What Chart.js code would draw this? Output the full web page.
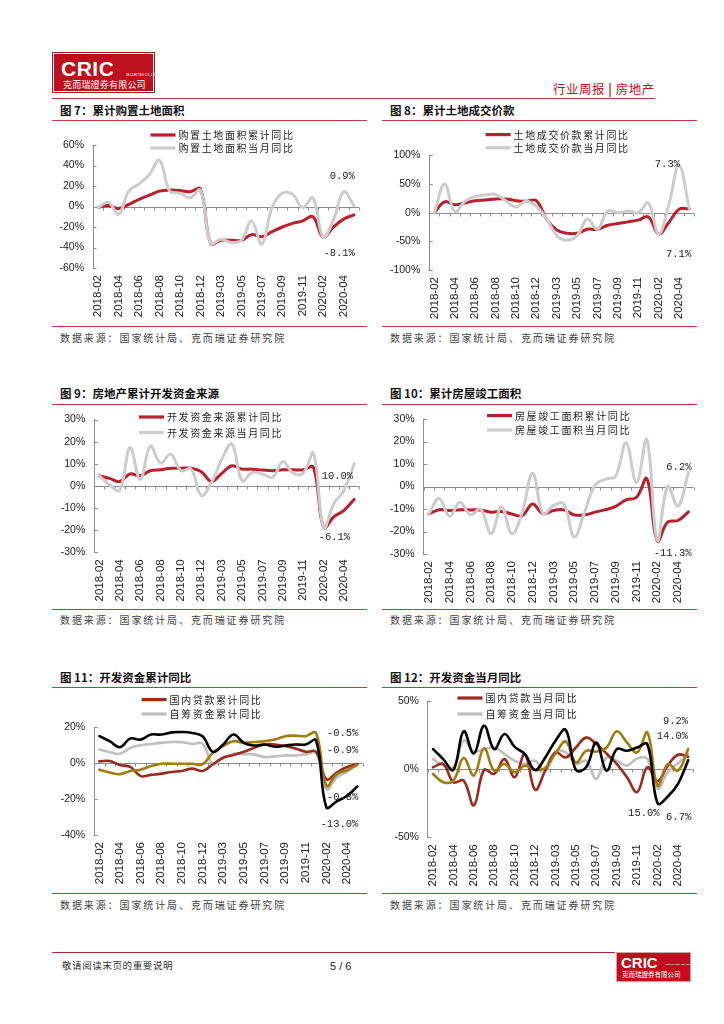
<!DOCTYPE html>
<html><head><meta charset="utf-8">
<script src="https://cdn.jsdelivr.net/npm/chart.js@4.4.0/dist/chart.umd.min.js"></script>
<style>
html,body{margin:0;padding:0;background:#fff}
body{width:724px;height:1024px;position:relative;overflow:hidden;font-family:"Noto Sans CJK SC","Noto Sans",sans-serif;color:#222}
.a{position:absolute;white-space:nowrap}
.logo{left:52px;top:52px;width:101px;height:39px;border:1px solid #b5121b;background:#fff}
.logo .in{position:absolute;left:1px;top:1px;right:1px;bottom:1px;background:#bd0f1d}
.cric{font-family:"Liberation Sans",Arial,sans-serif;font-weight:bold;color:#fff}
.hl{height:0;border-top:1.5px solid #c0393d}
.title{font-size:11.5px;font-weight:bold;color:#111;line-height:14px}
.src{font-size:10px;letter-spacing:1.9px;color:#444;line-height:12px}
canvas{position:absolute}
</style></head>
<body>
<!-- header -->
<div class="a logo"><div class="in"></div>
  <div class="a cric" style="left:8px;top:4px;font-size:21px;letter-spacing:0.5px">CRIC</div>
  <div class="a cric" style="left:73px;top:20px;font-size:3px;font-weight:normal">SECURITIES CO.,LTD</div>
  <div class="a" style="left:10px;top:26px;font-size:9px;color:#fff;line-height:11px;letter-spacing:0.2px">克而瑞證券有限公司</div>
</div>
<div class="a" style="left:553px;top:81px;font-size:12.5px;color:#c0141e;line-height:15px;letter-spacing:0.5px">行业周报 <span style="font-weight:bold">|</span> 房地产</div>
<div class="a hl" style="left:52px;top:98px;width:603px"></div>

<!-- row 1 -->
<div class="a title" style="left:60px;top:103px">图 7：累计购置土地面积</div>
<div class="a title" style="left:390px;top:103px">图 8：累计土地成交价款</div>
<div class="a hl" style="left:52px;top:120px;width:315px"></div>
<div class="a hl" style="left:382px;top:120px;width:315px"></div>
<canvas id="c7" width="315" height="202" style="left:52px;top:122px;width:315px;height:202px"></canvas>
<canvas id="c8" width="315" height="202" style="left:382px;top:122px;width:315px;height:202px"></canvas>
<div class="a hl" style="left:52px;top:326px;width:315px"></div>
<div class="a hl" style="left:382px;top:326px;width:315px"></div>
<div class="a src" style="left:60px;top:332px">数据来源：国家统计局、克而瑞证券研究院</div>
<div class="a src" style="left:390px;top:332px">数据来源：国家统计局、克而瑞证券研究院</div>

<!-- row 2 -->
<div class="a title" style="left:60px;top:386px">图 9：房地产累计开发资金来源</div>
<div class="a title" style="left:390px;top:386px">图 10：累计房屋竣工面积</div>
<div class="a hl" style="left:52px;top:404px;width:315px"></div>
<div class="a hl" style="left:382px;top:404px;width:315px"></div>
<canvas id="c9" width="315" height="201" style="left:52px;top:406px;width:315px;height:201px"></canvas>
<canvas id="c10" width="315" height="201" style="left:382px;top:406px;width:315px;height:201px"></canvas>
<div class="a hl" style="left:52px;top:609px;width:315px"></div>
<div class="a hl" style="left:382px;top:609px;width:315px"></div>
<div class="a src" style="left:60px;top:614px">数据来源：国家统计局、克而瑞证券研究院</div>
<div class="a src" style="left:390px;top:614px">数据来源：国家统计局、克而瑞证券研究院</div>

<!-- row 3 -->
<div class="a title" style="left:60px;top:670px">图 11：开发资金累计同比</div>
<div class="a title" style="left:390px;top:670px">图 12：开发资金当月同比</div>
<div class="a hl" style="left:52px;top:687px;width:315px"></div>
<div class="a hl" style="left:382px;top:687px;width:315px"></div>
<canvas id="c11" width="315" height="202" style="left:52px;top:689px;width:315px;height:202px"></canvas>
<canvas id="c12" width="315" height="202" style="left:382px;top:689px;width:315px;height:202px"></canvas>
<div class="a hl" style="left:52px;top:893px;width:315px"></div>
<div class="a hl" style="left:382px;top:893px;width:315px"></div>
<div class="a src" style="left:60px;top:899px">数据来源：国家统计局、克而瑞证券研究院</div>
<div class="a src" style="left:390px;top:899px">数据来源：国家统计局、克而瑞证券研究院</div>

<!-- footer -->
<div class="a" style="left:52px;top:952px;width:563px;height:0;border-top:1px solid #b0282e"></div>
<div class="a" style="left:62px;top:959px;font-size:9.5px;color:#333;letter-spacing:0.6px;line-height:12px">敬请阅读末页的重要说明</div>
<div class="a" style="left:330px;top:960px;font-size:11px;color:#222;font-family:'Liberation Sans',Arial,sans-serif;line-height:13px">5 / 6</div>
<div class="a" style="left:616px;top:952px;width:73px;height:28px;background:#bd0f1d;border:1px solid #d8a0a0">
  <div class="a cric" style="left:4px;top:1px;font-size:15px">CRIC</div>
  <div class="a cric" style="left:48px;top:10px;font-size:2.5px;font-weight:normal">SECURITIES CO.,LTD</div>
  <div class="a" style="left:5px;top:17px;font-size:6.5px;color:#fff;line-height:8px">克而瑞證券有限公司</div>
</div>

<script>
// ---------- data ----------
const months = ['2018-02','2018-03','2018-04','2018-05','2018-06','2018-07','2018-08','2018-09','2018-10','2018-11','2018-12',
  '2019-02','2019-03','2019-04','2019-05','2019-06','2019-07','2019-08','2019-09','2019-10','2019-11','2019-12',
  '2020-02','2020-03','2020-04','2020-05'];

const landAreaCum = [-1, 1, -2, 2, 7, 11, 15, 16, 15.5, 14.5, 17, -36, -33, -33, -33, -27.5, -29.5, -24.6, -20, -16.5, -14, -10, -30, -20, -12.3, -8.1];
const landAreaMon = [-1, 4, -7.5, 15, 22, 31, 45, 15, 13, 8.5, 16, -36, -32, -35, -33, -14, -37, -1, 13, 12, -1, 8.5, -30, -13, 14.5, 0.9];

const landPayCum = [0, 19, 14, 17, 21, 22, 24, 24, 21, 20, 21, -11, -30, -36, -36, -29, -29, -22, -19, -16, -13, -7.4, -37, -17, 6, 7.1];
const landPayMon = [0, 50, 2, 20, 28.6, 31, 32, 21, 10, 20, 11, -10, -40, -48, -40, -11, -29, 3, 0, 3, 0, 17, -37, 14, 83, 7.3];

const fundCum = [4.6, 3.4, 2, 5.4, 4.6, 6.9, 7.3, 8, 8, 8, 6.4, 2, 5.7, 9.1, 7.6, 7.6, 7.2, 6.9, 7.3, 7.3, 7.3, 8.4, -18.8, -14, -11, -6.1];
const fundMon = [4.6, 0.5, -2, 17.3, 3, 18, 10.3, 14.4, 6.9, 7.6, -4.3, 1.6, 12, 19, 2.4, 6, 5.4, 3.9, 11, 5.8, 5.8, 14.8, -19, -8, -2, 10];

const doneCum = [-12.2, -10.3, -10.7, -10.3, -10.4, -10.4, -11.4, -11.1, -12.2, -12.9, -7.8, -12.2, -10.7, -10.4, -12.6, -12.6, -11.4, -10.3, -8.8, -5.9, -4.8, 3.5, -24.2, -15.8, -15.1, -11.3];
const doneMon = [-12.2, -5.3, -13.3, -7, -12.6, -10, -21, -9, -21, -11.4, 5.9, -12.2, -8.5, -7.8, -22.4, -11.4, 0.6, 3.2, 4.7, 19.4, 1.8, 20.8, -24, 0, -8.8, 6.2];

const loanCum     = [0.9, 1.1, -1.1, -2.2, -7.3, -6.6, -5.9, -5, -4.4, -3.1, -4.4, -0.7, 2.9, 4.4, 6.2, 8.4, 10.3, 10.3, 9.4, 8.1, 6.2, 6.2, -9, -5.3, -2.2, -0.5];
const selfCum     = [7.5, 6, 5.1, 8.4, 9.9, 10.6, 11.2, 11.7, 11.6, 10.6, 10.8, -0.7, 2.9, 5.1, 4.8, 4.8, 3.3, 3.7, 4.2, 4.2, 4.8, 5.5, -14.5, -8.1, -4.8, -0.8];
const depositCum  = [14.9, 12.1, 8.8, 13.6, 13, 15.8, 15.8, 17, 17.2, 16.7, 14.9, 6.2, 10.3, 15.8, 11.2, 9.7, 10.3, 9, 9.7, 10.3, 10.3, 12.5, -24.6, -21.3, -18.2, -13];
const mortgageCum = [-3.7, -5.3, -6.2, -4.4, -3.7, -1.7, -0.4, -0.4, -0.4, -0.4, -0.7, 5.7, 9.4, 12.1, 11.2, 11.7, 12.1, 13, 14.9, 15.2, 14.9, 16.7, -12.7, -6.2, -4, -0.9];

const loanMon     = [1.5, 3.9, -9.5, -8.3, -26.5, -0.5, -3.4, 7.5, -5.8, 11.2, -15, -1, 12.4, 8.7, 16, 23.3, 18.4, 11.6, 3.9, -5.8, -16.7, 1.5, -8.7, 2.7, 10.7, 9.2];
const selfMon     = [7.5, 2.7, 1.5, 21, 13, 14.8, 16, 11.2, 6.3, 3.9, 6.3, -1, 13, 12.4, 3.9, 6.3, -7, 8.7, 6.3, 2.7, 8, 7.5, -14.3, -2.2, 4.4, 11.2];
const depositMon  = [14.8, 7.5, -0.5, 28, 11.6, 32, 14.8, 26, 16.5, 11.2, -0.5, 8.7, 21, 29, -0.5, 1.5, 19.7, -1, 14.8, 13.6, 16, 18.4, -25, -20, -10.7, 6.7];
const mortgageMon = [-3.4, -9.5, -8.3, 8.3, -4.6, 15.5, -1, 3.9, -2.2, 2.7, -0.5, 1, 11.6, 20.4, 5.1, 13.6, 13, 16, 28, 19.7, 12.4, 27, -11.9, 3.9, -1, 14.8];

// annotation labels (text, category index, value)
const notes7  = [['0.9%', 25, 30], ['-8.1%', 25, -45.6]];
const notes8  = [['7.3%', 24, 85], ['7.1%', 25.1, -72]];
const notes9  = [['10.0%', 24.8, 4.5], ['-6.1%', 24.5, -23]];
const notes10 = [['6.2%', 25.2, 8.7], ['-11.3%', 25.2, -29.6]];
const notes11 = [['-0.5%', 25, 16.7], ['-0.9%', 25, 7.2], ['-0.8%', 25, -18.9], ['-13.0%', 25, -33.9]];
const notes12 = [['9.2%', 24.9, 35.5], ['14.0%', 24.9, 24.5], ['15.0%', 22.1, -32], ['6.7%', 25.2, -35]];

// ---------- styling ----------
const RED = '#b91f2c', GRAY = '#cccccc';
const BROWN = '#9a2a1c', GRAY2 = '#bfbfbf', BLACK = '#000000', GOLD = '#a07c0a';
const NUM_FONT = "'Liberation Sans Narrow','Liberation Sans',Arial,sans-serif";

function line(label, data, color, width, order){
  return {label, data, borderColor: color, backgroundColor: color, borderWidth: width,
    pointRadius: 0, pointHoverRadius: 0, tension: 0.4, fill: false, order,
    borderCapStyle: 'round', borderJoinStyle: 'round'};
}

function decoPlugin(L, notes){
  return {
    id: 'deco',
    beforeDatasetsDraw(chart){
      const {ctx, chartArea: a, scales: {x, y}} = chart;
      ctx.save();
      ctx.strokeStyle = '#8c8c8c'; ctx.lineWidth = 1;
      const y0 = Math.round(y.getPixelForValue(0)) + 0.5;
      ctx.beginPath();
      ctx.moveTo(a.left, y0); ctx.lineTo(a.right, y0);
      for (let i = 0; i <= months.length; i++){
        const px = Math.round(x.getPixelForValue(i - 0.5)) + 0.5;
        ctx.moveTo(px, y0); ctx.lineTo(px, y0 + 3);
      }
      y.ticks.forEach((t, i) => {
        const py = Math.round(y.getPixelForTick(i)) + 0.5;
        ctx.moveTo(a.left, py); ctx.lineTo(a.left + 3.5, py);
      });
      ctx.stroke();
      ctx.restore();
    },
    afterDraw(chart){
      const {ctx, scales: {x, y}} = chart;
      ctx.save();
      // legend
      ctx.textBaseline = 'middle';
      ctx.font = '10px "Noto Sans CJK SC"';
      try { ctx.letterSpacing = '1.6px'; } catch(e){}
      L.legend.forEach((dsIdx, k) => {
        const ds = chart.data.datasets[dsIdx];
        const yy = L.rows[k];
        ctx.strokeStyle = ds.borderColor; ctx.lineWidth = 3.2; ctx.lineCap = 'butt';
        ctx.beginPath(); ctx.moveTo(L.lx, yy); ctx.lineTo(L.lx + 25, yy); ctx.stroke();
        ctx.fillStyle = '#222';
        ctx.fillText(ds.label, L.lx + 28, yy + 0.5);
      });
      // value notes
      ctx.font = '10.5px "Liberation Mono", "DejaVu Sans Mono", monospace';
      try { ctx.letterSpacing = '0px'; } catch(e){}
      ctx.textAlign = 'right';
      ctx.fillStyle = '#222';
      notes.forEach(n => {
        ctx.fillText(n[0], x.getPixelForValue(n[1]) + 1, y.getPixelForValue(n[2]));
      });
      ctx.restore();
    }
  };
}

function makeChart(id, L, datasets, yMin, yMax, step, notes){
  const canvas = document.getElementById(id);
  return new Chart(canvas, {
    type: 'line',
    data: {labels: months, datasets},
    options: {
      responsive: false,
      animation: false,
      events: [],
      layout: {autoPadding: false, padding: {left: 0, top: L.padTop, right: L.padRight, bottom: 0}},
      plugins: {legend: {display: false}, tooltip: {enabled: false}, title: {display: false}},
      scales: {
        x: {
          type: 'category', offset: true,
          grid: {display: false, offset: true, drawTicks: false},
          border: {display: false},
          ticks: {
            autoSkip: false, minRotation: 90, maxRotation: 90, padding: 7,
            color: '#222', font: {family: "'Liberation Sans',Arial,sans-serif", size: 11.5},
            callback: (v, i) => (i % 2 === 0 ? months[i] : '')
          },
          afterFit: s => { s.height = L.xH; s.paddingLeft = 0; s.paddingRight = 0; }
        },
        y: {
          min: yMin, max: yMax,
          grid: {display: false, drawTicks: false},
          border: {display: true, color: '#8c8c8c', width: 1},
          ticks: {
            stepSize: step, padding: 9, color: '#222',
            font: {family: NUM_FONT, size: 10.5},
            callback: v => v + '%'
          },
          afterFit: s => { s.width = L.yW; s.paddingTop = 0; s.paddingBottom = 0; }
        }
      }
    },
    plugins: [decoPlugin(L, notes)]
  });
}

makeChart('c7', {padTop: 23, padRight: 8, yW: 41, xH: 56, lx: 98.5, rows: [13, 26], legend: [0, 1]}, [
  line('购置土地面积累计同比', landAreaCum, RED, 3, 1),
  line('购置土地面积当月同比', landAreaMon, GRAY, 3, 0)
], -60, 60, 20, notes7);

makeChart('c8', {padTop: 33.4, padRight: 2.7, yW: 47.3, xH: 54, lx: 103.6, rows: [12.6, 25.8], legend: [0, 1]}, [
  line('土地成交价款累计同比', landPayCum, RED, 3, 1),
  line('土地成交价款当月同比', landPayMon, GRAY, 3, 0)
], -100, 100, 50, notes8);

makeChart('c9', {padTop: 13.6, padRight: 7.7, yW: 42.3, xH: 54.7, lx: 87, rows: [11, 26.5], legend: [0, 1]}, [
  line('开发资金来源累计同比', fundCum, RED, 3, 1),
  line('开发资金来源当月同比', fundMon, GRAY, 3, 0)
], -30, 30, 10, notes9);

makeChart('c10', {padTop: 13, padRight: 3.4, yW: 41.6, xH: 53, lx: 105, rows: [9.6, 24], legend: [0, 1]}, [
  line('房屋竣工面积累计同比', doneCum, RED, 3, 1),
  line('房屋竣工面积当月同比', doneMon, GRAY, 3, 0)
], -30, 30, 10, notes10);

makeChart('c11', {padTop: 38, padRight: 4.5, yW: 42.2, xH: 56, lx: 89.6, rows: [10.6, 25], legend: [0, 1]}, [
  line('国内贷款累计同比', loanCum, BROWN, 2.6, 2),
  line('自筹资金累计同比', selfCum, GRAY2, 2.6, 3),
  line('定金及预收款累计同比', depositCum, BLACK, 2.6, 0),
  line('个人按揭贷款累计同比', mortgageCum, GOLD, 2.6, 1)
], -40, 20, 20, notes11);

makeChart('c12', {padTop: 12.3, padRight: 3.7, yW: 45.9, xH: 53.7, lx: 75.5, rows: [9, 25], legend: [0, 1]}, [
  line('国内贷款当月同比', loanMon, BROWN, 2.6, 2),
  line('自筹资金当月同比', selfMon, GRAY2, 2.6, 3),
  line('定金及预收款当月同比', depositMon, BLACK, 2.6, 0),
  line('个人按揭贷款当月同比', mortgageMon, GOLD, 2.6, 1)
], -50, 50, 50, notes12);
</script>
</body></html>
